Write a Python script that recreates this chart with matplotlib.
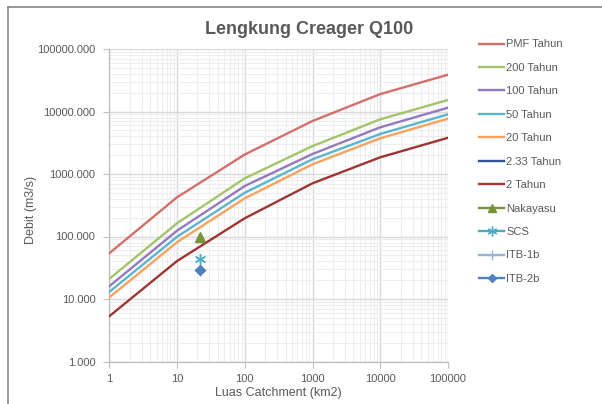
import matplotlib
matplotlib.use("Agg")
import matplotlib.pyplot as plt
from matplotlib.lines import Line2D
from matplotlib.ticker import FixedLocator, LogLocator, NullFormatter, FuncFormatter

plt.rcParams['font.family'] = ['Liberation Sans', 'DejaVu Sans']

area = [1, 10, 100, 1000, 10000, 100000]
q_pmf = [54, 424, 2050, 7050, 19000, 38800]
q_200 = [21, 163, 853, 2800, 7500, 15300]
q_100 = [16, 124, 643, 2090, 5590, 11500]
q_50 = [13, 99, 502, 1720, 4370, 9020]
q_20 = [10.6, 81, 408, 1430, 3730, 7670]
q_233 = []
q_2 = [5.3, 40.5, 196, 710, 1850, 3800]

pt_area = [21.8]
pt_nakayasu = [97]
pt_scs = [43.6]
pt_itb1b = [29.1]
pt_itb2b = [29.1]

labels = ["PMF Tahun", "200 Tahun", "100 Tahun", "50 Tahun", "20 Tahun",
          "2.33 Tahun", "2 Tahun", "Nakayasu", "SCS", "ITB-1b", "ITB-2b"]
yticks = [1, 10, 100, 1000, 10000, 100000]

colors = {
    "PMF Tahun": "#D46F6B",
    "200 Tahun": "#A4C46B",
    "100 Tahun": "#9579BE",
    "50 Tahun": "#5BB5CF",
    "20 Tahun": "#F9A25E",
    "2.33 Tahun": "#2F5597",
    "2 Tahun": "#9E3532",
    "Nakayasu": "#77933C",
    "SCS": "#4BACC6",
    "ITB-1b": "#95B3D7",
    "ITB-2b": "#4F81BD",
}

fig = plt.figure(figsize=(6.02, 4.04), dpi=100)
ax = fig.add_axes([109.3/602, 1-361.5/404, (448-109.3)/602, (361.5-49)/404])
ax.set_xscale('log')
ax.set_yscale('log')
ax.set_xlim(1, 100000)
ax.set_ylim(1, 100000)

handles = []
series = [("PMF Tahun", q_pmf), ("200 Tahun", q_200), ("100 Tahun", q_100),
          ("50 Tahun", q_50), ("20 Tahun", q_20), ("2.33 Tahun", q_233), ("2 Tahun", q_2)]
for name, vals in series:
    xs = area[:len(vals)]
    ax.plot(xs, vals, color=colors[name], lw=1.7, zorder=3)
    handles.append(Line2D([], [], color=colors[name], lw=1.7))

ax.plot(pt_area, pt_itb1b, linestyle='none', marker='+', ms=8, mew=1.0, color=colors["ITB-1b"], zorder=4)
ax.plot(pt_area, pt_itb2b, linestyle='none', marker='D', ms=5, color=colors["ITB-2b"], zorder=5)
ax.plot(pt_area, pt_scs, linestyle='none', marker=(6, 2, 0), ms=8, mew=1.0, color=colors["SCS"], zorder=4)
ax.plot(pt_area, pt_nakayasu, linestyle='none', marker='^', ms=7, color=colors["Nakayasu"], zorder=4)

handles.append(Line2D([], [], color=colors["Nakayasu"], lw=1.7, marker='^', ms=6))
handles.append(Line2D([], [], color=colors["SCS"], lw=1.7, marker=(6, 2, 0), ms=7, mew=1.0))
handles.append(Line2D([], [], color=colors["ITB-1b"], lw=1.7, marker='+', ms=7, mew=1.0))
handles.append(Line2D([], [], color=colors["ITB-2b"], lw=1.7, marker='D', ms=4))

ax.xaxis.set_major_locator(FixedLocator(area))
ax.yaxis.set_major_locator(FixedLocator(yticks))
ax.xaxis.set_minor_locator(LogLocator(base=10, subs=range(2, 10), numticks=20))
ax.yaxis.set_minor_locator(LogLocator(base=10, subs=range(2, 10), numticks=20))
ax.xaxis.set_minor_formatter(NullFormatter())
ax.yaxis.set_minor_formatter(NullFormatter())
ax.xaxis.set_major_formatter(FuncFormatter(lambda v, p: f"{v:.0f}"))
ax.yaxis.set_major_formatter(FuncFormatter(lambda v, p: f"{v:.3f}"))

ax.grid(True, which='major', color='#D9D9D9', lw=1.0, zorder=0)
ax.grid(True, which='minor', color='#EDEDED', lw=0.8, zorder=0)
ax.set_axisbelow(True)
for s in ['top', 'right']:
    ax.spines[s].set_visible(False)
for s in ['left', 'bottom']:
    ax.spines[s].set_color('#BFBFBF')
    ax.spines[s].set_linewidth(1.0)
ax.tick_params(which='major', length=4, color='#BFBFBF', labelsize=8, labelcolor='#595959', pad=5)
ax.tick_params(axis='y', which='major', pad=6)
ax.tick_params(which='minor', length=0)

ax.set_xlabel("Luas Catchment (km2)", fontsize=9, color='#595959')
ax.set_ylabel("Debit (m3/s)", fontsize=9, color='#595959')
ax.xaxis.set_label_coords((278-109.3)/(448-109.3), -(393-361.5)/(361.5-49))
ax.yaxis.set_label_coords(-(109.3-31)/(448-109.3), (361.5-210)/(361.5-49))
ax.xaxis.label.set_va('center')
ax.yaxis.label.set_va('center')

fig.text(309/602, 1-30/404, "Lengkung Creager Q100", ha='center', va='center',
         fontsize=13, fontweight='bold', color='#595959')

leg = fig.legend(handles, labels, loc='upper left', bbox_to_anchor=(475/602, 1-35/404),
                 frameon=False, fontsize=8, handlelength=2.2, handletextpad=0.2,
                 labelspacing=1.21, borderaxespad=0)
for t in leg.get_texts():
    t.set_color('#595959')

fig.add_artist(Line2D([8/602, 1], [1-7/404, 1-7/404], color='#888888', lw=1.2, transform=fig.transFigure))
fig.add_artist(Line2D([8/602, 8/602], [1-7/404, 0], color='#888888', lw=1.2, transform=fig.transFigure))

fig.savefig("out.png", dpi=100)
